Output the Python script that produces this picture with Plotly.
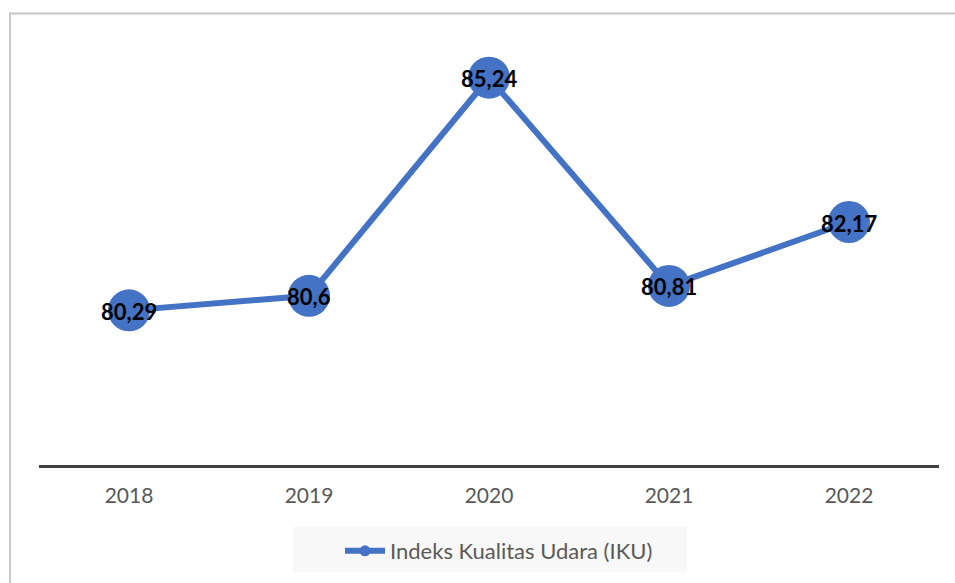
import plotly.graph_objects as go

years = ["2018", "2019", "2020", "2021", "2022"]
iku = [80.29, 80.6, 85.24, 80.81, 82.17]
labels = ["80,29", "80,6", "85,24", "80,81", "82,17"]
series_name = "Indeks Kualitas Udara (IKU)"

blue = "#4472C4"

fig = go.Figure()

# main line with large circular markers
fig.add_trace(go.Scatter(
    x=years, y=iku, mode="lines+markers",
    line=dict(color=blue, width=6),
    marker=dict(color=blue, size=42),
    showlegend=False, cliponaxis=False,
))

# legend entry with a small marker
fig.add_trace(go.Scatter(
    x=[None], y=[None], mode="lines+markers", name=series_name,
    line=dict(color=blue, width=6),
    marker=dict(color=blue, size=11),
))

# value labels centred on each marker (category index on x)
annotations = [
    dict(x=i, y=v, xref="x", yref="y", text="<b>" + lab + "</b>",
         showarrow=False, xanchor="center", yanchor="middle", yshift=-1,
         font=dict(family="Lato", size=22, color="#000000"))
    for i, (v, lab) in enumerate(zip(iku, labels))
]

W, H = 955, 583
ml, mr, mt, mb = 39, 16, 42, 117
pw, ph = W - ml - mr, H - mt - mb

def px(x):
    return (x - ml) / pw

def py(y):
    return (H - mb - y) / ph

shapes = [
    # outer frame lines (left and top)
    dict(type="line", xref="paper", yref="paper",
         x0=px(10), x1=px(10), y0=py(13), y1=py(H + 5),
         line=dict(color="#C9C9C9", width=2)),
    dict(type="line", xref="paper", yref="paper",
         x0=px(9), x1=px(W + 5), y0=py(13.5), y1=py(13.5),
         line=dict(color="#C4C4C4", width=2)),
    # legend background
    dict(type="rect", xref="paper", yref="paper",
         x0=px(293), x1=px(687), y0=py(528), y1=py(574),
         fillcolor="#F8F8F8", line=dict(width=0), layer="below"),
]

fig.update_layout(
    width=W, height=H,
    margin=dict(l=ml, r=mr, t=mt, b=mb),
    paper_bgcolor="white", plot_bgcolor="white",
    shapes=shapes,
    annotations=annotations,
    xaxis=dict(
        type="category", range=[-0.5, 4.5],
        showline=True, linecolor="#404040", linewidth=3,
        showgrid=False, zeroline=False,
        ticks="outside", ticklen=10, tickcolor="rgba(0,0,0,0)",
        tickfont=dict(family="Lato", size=21, color="#595959"),
    ),
    yaxis=dict(
        range=[77, 86], visible=False, showgrid=False, zeroline=False,
    ),
    legend=dict(
        orientation="h", x=px(340), y=py(551), xanchor="left", yanchor="middle",
        bgcolor="rgba(0,0,0,0)",
        font=dict(family="Lato", size=22, color="#595959"),
        itemwidth=40,
    ),
)

fig.write_html("out.html")
